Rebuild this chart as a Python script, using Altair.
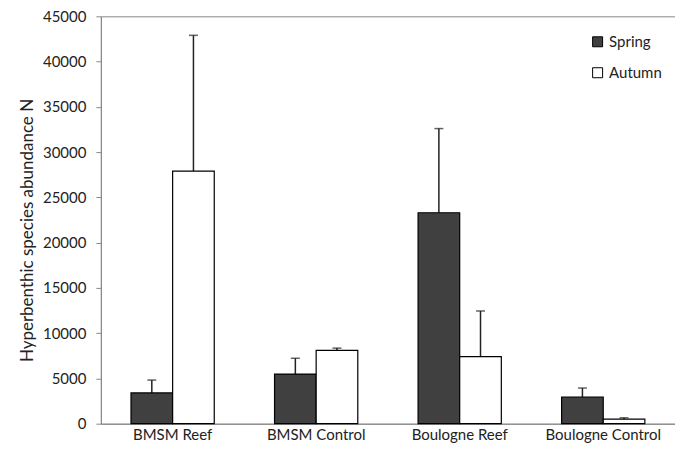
import altair as alt
import pandas as pd

sites = ["BMSM Reef", "BMSM Control", "Boulogne Reef", "Boulogne Control"]
seasons = ["Spring", "Autumn"]
spring = [3400, 5480, 23300, 2950]
spring_err = [1420, 1750, 9300, 990]
autumn = [27900, 8100, 7400, 500]
autumn_err = [15000, 250, 5050, 150]
y_ticks = [0, 5000, 10000, 15000, 20000, 25000, 30000, 35000, 40000, 45000]

rows = []
for i, s in enumerate(sites):
    rows.append({"site": s, "season": "Spring", "value": spring[i], "upper": spring[i] + spring_err[i]})
    rows.append({"site": s, "season": "Autumn", "value": autumn[i], "upper": autumn[i] + autumn_err[i]})
df = pd.DataFrame(rows)

FONT = "Lato"
W, H = 575, 408

x = alt.X("site:N", sort=sites, title=None,
          scale=alt.Scale(paddingInner=0.42, paddingOuter=0.21),
          axis=alt.Axis(labelAngle=0, ticks=False, labelPadding=11, labelFontSize=15,
                        labelAlign="center", bandPosition=0.5,
                        labelFont=FONT, labelColor="#222222", domainColor="#888888"))
xo = alt.XOffset("season:N", sort=seasons)

base = alt.Chart(df)

bars = base.mark_bar(stroke="black", strokeWidth=1.2).encode(
    x=x,
    xOffset=xo,
    y=alt.Y("value:Q", title="Hyperbenthic species abundance N",
            scale=alt.Scale(domain=[0, 45000], nice=False),
            axis=alt.Axis(values=y_ticks, format="d", grid=False, tickSize=5, tickColor="#888888",
                          domainColor="#888888", labelPadding=10, labelFontSize=15,
                          labelFont=FONT, labelColor="#222222", titleFont=FONT,
                          titleFontSize=17, titleFontWeight="normal", titleColor="#222222",
                          titlePadding=6, titleY=H / 2 + 10)),
    color=alt.Color("season:N", sort=seasons,
                    scale=alt.Scale(domain=seasons, range=["#404040", "#ffffff"]),
                    legend=alt.Legend(title=None, orient="none", legendX=490, legendY=18,
                                      symbolType="square", symbolSize=100,
                                      symbolStrokeColor="black", symbolStrokeWidth=1,
                                      labelFont=FONT, labelFontSize=15, labelColor="#222222",
                                      rowPadding=15, labelOffset=4)),
)

rules = base.mark_rule(color="#222222", strokeWidth=1.5).encode(
    x=alt.X("site:N", sort=sites),
    xOffset=xo,
    y="value:Q",
    y2="upper:Q",
)

caps = base.mark_tick(color="#222222", orient="horizontal", size=9, thickness=1.5).encode(
    x=alt.X("site:N", sort=sites),
    xOffset=xo,
    y="upper:Q",
)

chart = alt.layer(rules, bars, caps).properties(
    width=W, height=H,
    padding={"left": 10, "top": 1, "right": 0, "bottom": 0},
).configure_view(stroke="#888888", strokeWidth=1)

chart.save("out.html", embed_options={"renderer": "svg", "actions": False})
